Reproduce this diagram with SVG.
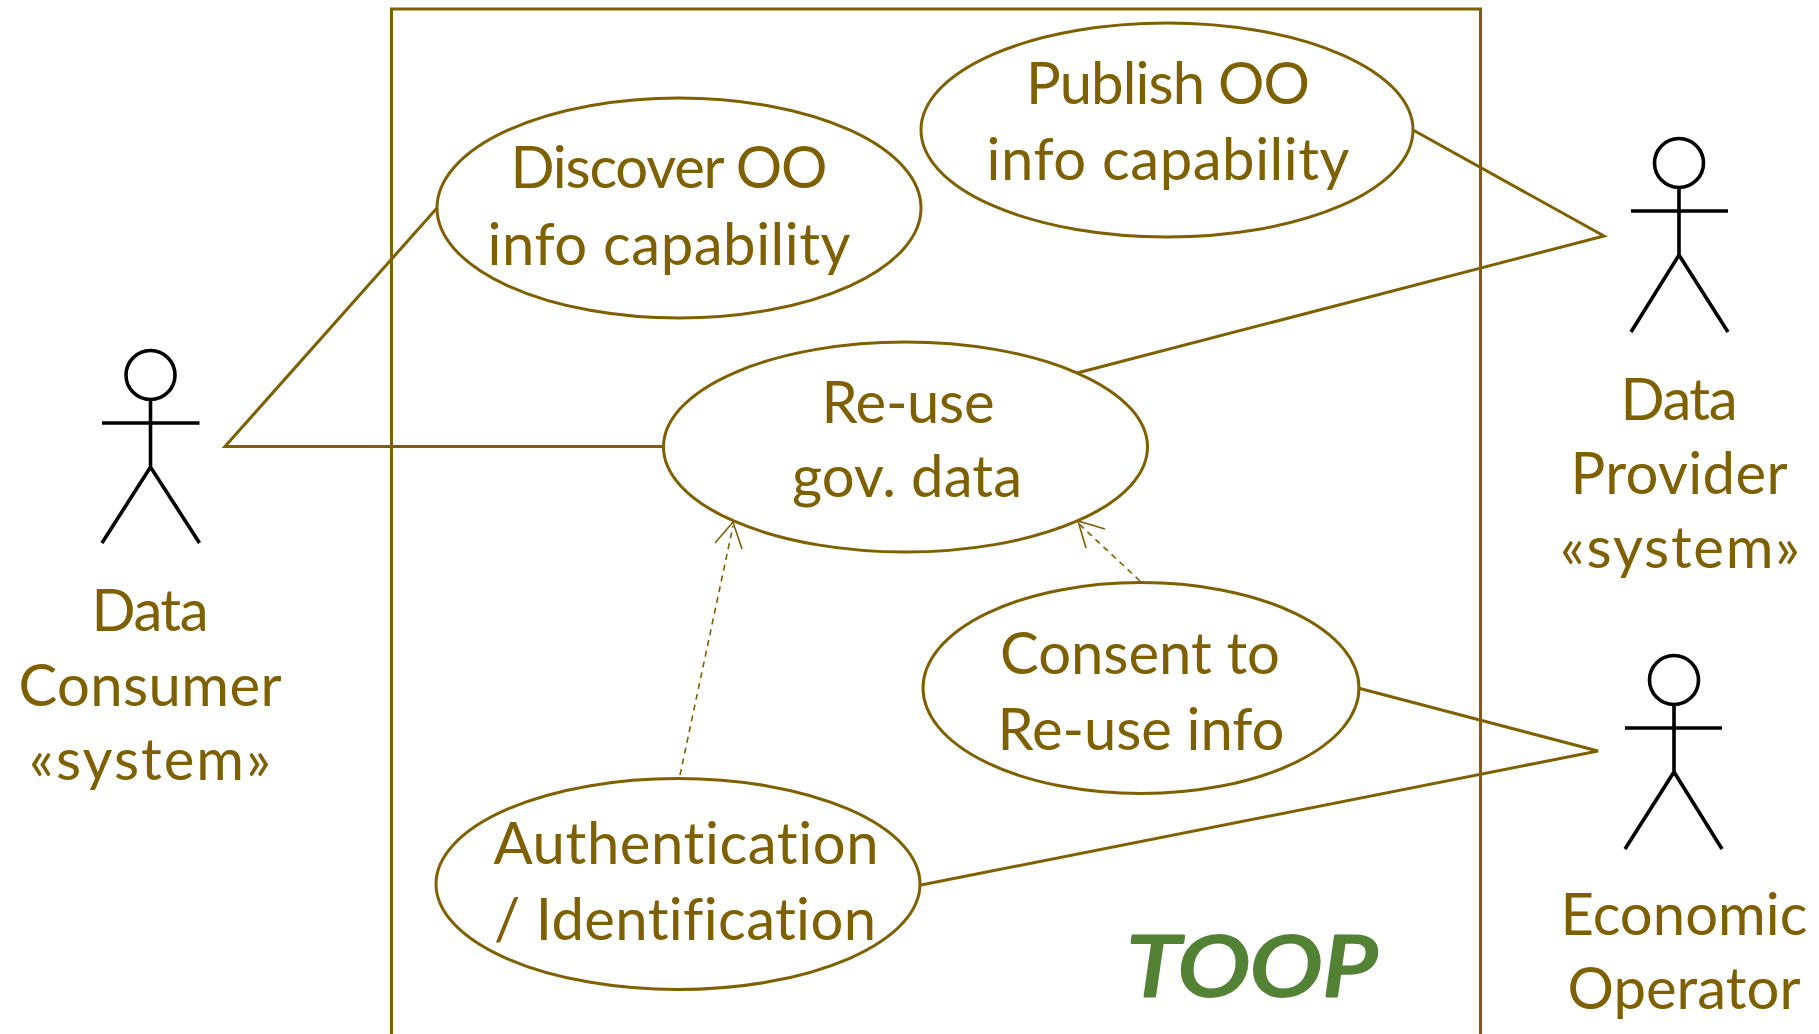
<svg xmlns="http://www.w3.org/2000/svg" width="1819" height="1034" viewBox="0 0 1819 1034">
<style>
.s{fill:none;stroke:#7f6000;stroke-width:3}
.d{fill:none;stroke:#7f6000;stroke-width:1.6}
.u{fill:none;stroke:#7f6000;stroke-width:1.6;stroke-dasharray:6 5}
.a{fill:none;stroke:#000;stroke-width:3.6}
text{font-family:"Lato","Carlito","Open Sans",sans-serif;font-size:58px;fill:#7f6000;text-anchor:middle;font-variant-ligatures:none}
</style>
<rect width="1819" height="1034" fill="#fff"/>
<rect id="boundary" class="s" x="391.500" y="9" width="1089" height="1040"/>
<g id="connectors">
<path class="s" d="M437 208L225 446.500H664"/>
<path class="s" d="M1413 130L1604 236L1077 373"/>
<path class="s" d="M1358 688L1598 751L921 885"/>
<path class="u" d="M680 775L733 526"/>
<path class="d" d="M715 543L733 522L742 549"/>
<path class="u" d="M1140 581L1079 524"/>
<path class="d" d="M1105 529L1078 521L1086 548"/>
</g>
<g id="discover"><ellipse class="s" cx="679" cy="208" rx="242" ry="110"/><text x="669" y="188" textLength="317">Discover OO</text><text x="669" y="265" textLength="363">info capability</text></g>
<g id="publish"><ellipse class="s" cx="1167" cy="130" rx="246" ry="107"/><text x="1168" y="104" textLength="284">Publish OO</text><text x="1168" y="180" textLength="363">info capability</text></g>
<g id="reuse"><ellipse class="s" cx="905.500" cy="447" rx="242" ry="105"/><text x="908" y="423" textLength="173">Re-use</text><text x="907" y="497" textLength="230">gov. data</text></g>
<g id="consent"><ellipse class="s" cx="1141" cy="688" rx="218" ry="105.500"/><text x="1140" y="674" textLength="280">Consent to</text><text x="1141" y="750" textLength="287">Re-use info</text></g>
<g id="auth"><ellipse class="s" cx="678" cy="884" rx="242" ry="105.500"/><text x="686" y="864" textLength="385">Authentication</text><text x="685" y="940" textLength="382">/ Identification</text></g>
<g id="consumer">
<g class="a"><circle cx="150.500" cy="375" r="24.500"/><path d="M150.500 400V466M102 423H199.500M102 543L150.500 467L199.500 543"/></g>
<text x="150" y="631" textLength="117">Data</text><text x="150" y="706" textLength="263">Consumer</text><text x="150" y="780" textLength="242">«system»</text></g>
<g id="provider">
<g class="a"><circle cx="1679" cy="163" r="24.500"/><path d="M1679 188V254M1631 211H1728M1631 332L1679 255L1728 332"/></g>
<text x="1679" y="420" textLength="117">Data</text><text x="1679" y="494" textLength="217">Provider</text><text x="1680" y="568" textLength="240">«system»</text></g>
<g id="operator">
<g class="a"><circle cx="1674" cy="680" r="24.500"/><path d="M1674 705V771M1625 728H1722M1625 849L1674 772L1722 849"/></g>
<text x="1684" y="935" textLength="247">Economic</text><text x="1684" y="1009" textLength="233">Operator</text></g>
<text id="toop" x="1252" y="996" style="font-size:84px;font-style:italic;font-family:'Lato',sans-serif;fill:#548235;stroke:#548235;stroke-width:3;stroke-linejoin:round" textLength="250" lengthAdjust="spacingAndGlyphs">TOOP</text>
</svg>
